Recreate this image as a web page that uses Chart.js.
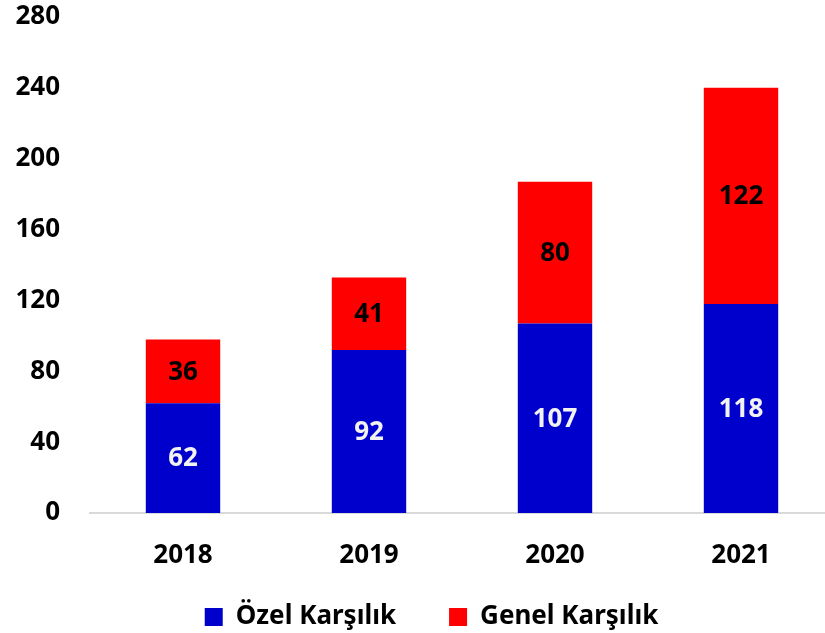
<!DOCTYPE html>
<html>
<head>
<meta charset="utf-8">
<script src="https://cdn.jsdelivr.net/npm/chart.js@4.4.1/dist/chart.umd.min.js"></script>
<style>
  html, body { margin: 0; padding: 0; background: #fff; overflow: hidden; }
  #wrap { width: 834px; height: 633px; }
</style>
</head>
<body>
<div id="wrap"><canvas id="chart" width="834" height="633"></canvas></div>
<script>
const years = ['2018', '2019', '2020', '2021'];
const ozelKarsilik = [62, 92, 107, 118];
const genelKarsilik = [36, 41, 80, 122];
const yTicks = [0, 40, 80, 120, 160, 200, 240, 280];

const FONT = '"Noto Sans", "DejaVu Sans", sans-serif';

// draws the value in the middle of every bar segment
const barLabels = {
  id: 'barLabels',
  afterDatasetsDraw(chart) {
    const ctx = chart.ctx;
    ctx.save();
    ctx.font = 'bold 26px ' + FONT;
    ctx.textAlign = 'center';
    ctx.textBaseline = 'middle';
    chart.data.datasets.forEach((ds, i) => {
      const meta = chart.getDatasetMeta(i);
      meta.data.forEach((bar, j) => {
        const { x, y, base } = bar.getProps(['x', 'y', 'base'], true);
        ctx.fillStyle = ds.labelColor;
        ctx.fillText(String(ds.data[j]), x, (y + base) / 2 + 1);
      });
    });
    ctx.restore();
  }
};

// nudge the legend into place
const legendShift = {
  id: 'legendShift',
  afterLayout(chart) {
    const lg = chart.legend;
    lg.top -= 32; lg.bottom -= 32;
    lg.left += 8; lg.right += 8;
  }
};

new Chart(document.getElementById('chart'), {
  type: 'bar',
  data: {
    labels: years,
    datasets: [
      {
        label: 'Özel Karşılık',
        data: ozelKarsilik,
        backgroundColor: '#0000CC',
        labelColor: '#F2F2F2',
        barPercentage: 0.4,
        categoryPercentage: 1
      },
      {
        label: 'Genel Karşılık',
        data: genelKarsilik,
        backgroundColor: '#FF0000',
        labelColor: '#000000',
        barPercentage: 0.4,
        categoryPercentage: 1
      }
    ]
  },
  options: {
    responsive: false,
    devicePixelRatio: 1,
    animation: false,
    layout: { padding: { left: 13, top: 0, right: 0, bottom: -39 } },
    plugins: {
      tooltip: { enabled: false },
      legend: {
        position: 'bottom',
        labels: {
          color: '#000',
          font: { family: FONT, size: 26, weight: 'bold' },
          boxWidth: 18,
          boxHeight: 18,
          padding: 53
        }
      }
    },
    scales: {
      x: {
        stacked: true,
        grid: { display: false, drawTicks: false },
        border: { display: true, color: '#D9D9D9', width: 2 },
        ticks: {
          color: '#000',
          padding: 27,
          font: { family: FONT, size: 26, weight: 'bold' }
        },
        afterFit(scale) {
          scale.paddingLeft = 0;
          scale.paddingRight = 0;
          scale.height = 70;
        }
      },
      y: {
        stacked: true,
        min: 0,
        max: 280,
        afterBuildTicks(scale) {
          scale.ticks = yTicks.map(v => ({ value: v }));
        },
        grid: { display: false, drawTicks: false },
        border: { display: false },
        ticks: {
          color: '#000',
          padding: 30,
          font: { family: FONT, size: 26, weight: 'bold' }
        },
        afterFit(scale) {
          scale.width = 77;
          scale.paddingTop = 17;
          scale.paddingBottom = 0;
        }
      }
    }
  },
  plugins: [barLabels, legendShift]
});
</script>
</body>
</html>
